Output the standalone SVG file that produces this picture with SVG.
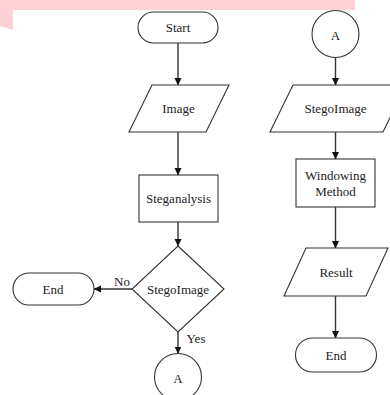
<svg xmlns="http://www.w3.org/2000/svg" width="390" height="395" viewBox="0 0 390 395">
<defs>
<style>
.s{fill:#fff;stroke:#333;stroke-width:1.1}
.t{font-family:"Liberation Serif","Times New Roman",serif;font-size:13px;fill:#222;text-anchor:middle;dominant-baseline:central}
.c{fill:none;stroke:#333;stroke-width:1.4}
</style>
<marker id="ah" markerWidth="8" markerHeight="8" refX="7" refY="4" orient="auto" markerUnits="userSpaceOnUse">
<path d="M0,0.5 L7.5,4 L0,7.5 Z" fill="#111"/>
</marker>
</defs>
<rect width="390" height="395" fill="#fff"/>
<polygon points="0,0 355,0 355,10 13,10 13,30 0,26" fill="#ffd1d6"/>
<g id="connectors">
<line class="c" x1="178" y1="43" x2="178" y2="85" marker-end="url(#ah)"/>
<line class="c" x1="178" y1="132" x2="178" y2="175" marker-end="url(#ah)"/>
<line class="c" x1="178" y1="222" x2="178" y2="246" marker-end="url(#ah)"/>
<line class="c" x1="132" y1="289" x2="94" y2="289" marker-end="url(#ah)"/>
<line class="c" x1="178" y1="332" x2="178" y2="353.5" marker-end="url(#ah)"/>
<line class="c" x1="335.5" y1="57.5" x2="335.5" y2="85" marker-end="url(#ah)"/>
<line class="c" x1="335.5" y1="132" x2="335.5" y2="159" marker-end="url(#ah)"/>
<line class="c" x1="335.5" y1="207" x2="335.5" y2="248" marker-end="url(#ah)"/>
<line class="c" x1="335.5" y1="296" x2="335.5" y2="338" marker-end="url(#ah)"/>
<text class="t" x="122" y="281">No</text>
<text class="t" x="196" y="338">Yes</text>
</g>
<g id="start">
<rect class="s" x="138" y="12" width="80" height="31" rx="15.5"/>
<text class="t" x="178" y="27.5">Start</text>
</g>
<g id="image">
<polygon class="s" points="152,85 229,85 206,132 129,132"/>
<text class="t" x="178.5" y="108.5">Image</text>
</g>
<g id="steganalysis">
<rect class="s" x="139" y="175" width="79" height="47"/>
<text class="t" x="178.5" y="198.5">Steganalysis</text>
</g>
<g id="decision">
<polygon class="s" points="178,246 224,289 178,332 132,289"/>
<text class="t" x="178" y="289">StegoImage</text>
</g>
<g id="end-left">
<rect class="s" x="13" y="273" width="81" height="32" rx="16"/>
<text class="t" x="53" y="289">End</text>
</g>
<g id="connector-a-bottom">
<circle class="s" cx="178" cy="377" r="23.5"/>
<text class="t" x="178" y="378">A</text>
</g>
<g id="connector-a-top">
<circle class="s" cx="335.5" cy="34" r="23.5"/>
<text class="t" x="335.5" y="35">A</text>
</g>
<g id="stegoimage">
<polygon class="s" points="293,85 406,85 383,132 270,132"/>
<text class="t" x="335.5" y="108.5">StegoImage</text>
</g>
<g id="windowing">
<rect class="s" x="296" y="159" width="79" height="48"/>
<text class="t" x="335.5" y="175">Windowing</text>
<text class="t" x="335.5" y="191">Method</text>
</g>
<g id="result">
<polygon class="s" points="306,248 388,248 366,296 284,296"/>
<text class="t" x="336" y="272">Result</text>
</g>
<g id="end-right">
<rect class="s" x="295.5" y="338" width="81" height="34" rx="17"/>
<text class="t" x="336" y="355">End</text>
</g>
</svg>
